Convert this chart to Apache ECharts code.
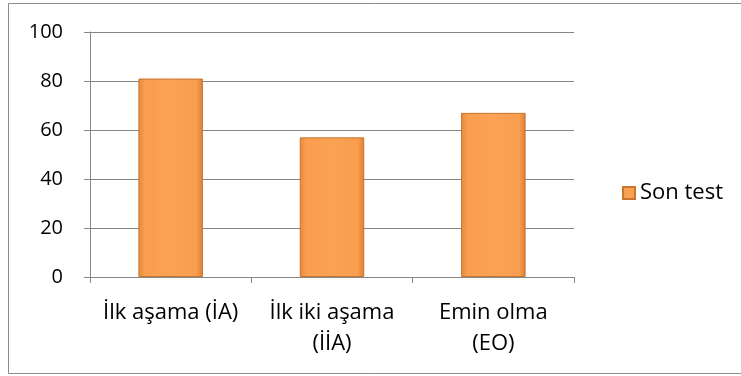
<!DOCTYPE html>
<html>
<head>
<meta charset="utf-8">
<script src="https://cdn.jsdelivr.net/npm/echarts@6/dist/echarts.min.js"></script>
<style>
  html, body { margin: 0; padding: 0; background: #fff; }
  #main { width: 741px; height: 376px; }
</style>
</head>
<body>
<div id="main"></div>
<script>
var categories = ['İlk aşama (İA)', 'İlk iki aşama\n(İİA)', 'Emin olma\n(EO)'];
var sonTest = [81, 57, 67];
var yTicks = [0, 20, 40, 60, 80, 100];

var font = 'Open Sans';
var barFill = new echarts.graphic.LinearGradient(0, 0, 1, 0, [
  { offset: 0, color: '#E58A3E' },
  { offset: 0.1, color: '#F99D4E' },
  { offset: 0.5, color: '#FBA355' },
  { offset: 0.9, color: '#F99D4E' },
  { offset: 1, color: '#D97F36' }
]);

var myChart = echarts.init(document.getElementById('main'));
myChart.setOption({
  animation: false,
  textStyle: { fontFamily: font },
  graphic: [{
    type: 'rect',
    shape: { x: 8.5, y: 3.5, width: 760, height: 370 },
    style: { fill: 'none', stroke: '#8c8c8c', lineWidth: 1 },
    z: -10
  }],
  grid: { left: 90, right: 167, top: 32, bottom: 99 },
  legend: {
    data: ['Son test'],
    orient: 'vertical',
    left: 617,
    top: 177,
    itemWidth: 12,
    itemHeight: 12,
    itemGap: 5,
    icon: 'rect',
    textStyle: { fontSize: 22, color: '#000', fontFamily: font }
  },
  xAxis: {
    type: 'category',
    data: categories,
    axisLine: { lineStyle: { color: '#868686' } },
    axisTick: { show: true, length: 6, lineStyle: { color: '#868686' } },
    axisLabel: {
      color: '#000', fontSize: 22, margin: 20, lineHeight: 31,
      interval: 0, fontFamily: font
    }
  },
  yAxis: {
    type: 'value',
    min: yTicks[0],
    max: yTicks[yTicks.length - 1],
    interval: 20,
    axisLine: { show: true, lineStyle: { color: '#868686' } },
    axisTick: { show: true, length: 6, lineStyle: { color: '#868686' } },
    splitLine: { lineStyle: { color: '#868686' } },
    axisLabel: { color: '#000', fontSize: 20, margin: 27, fontFamily: font }
  },
  series: [{
    name: 'Son test',
    type: 'bar',
    data: sonTest,
    barWidth: '40%',
    itemStyle: { color: barFill, borderColor: '#C9742F', borderWidth: 1 }
  }]
});
</script>
</body>
</html>
